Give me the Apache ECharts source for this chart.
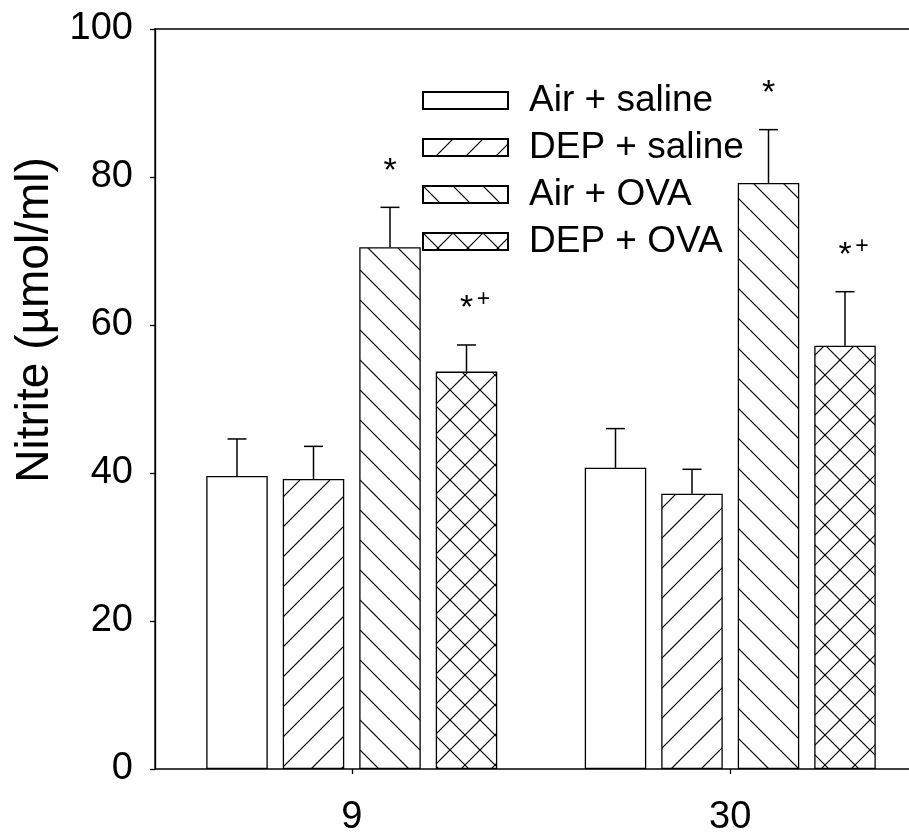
<!DOCTYPE html>
<html>
<head>
<meta charset="utf-8">
<script src="https://cdn.jsdelivr.net/npm/echarts@6/dist/echarts.min.js"></script>
<style>
	html, body { margin: 0; padding: 0; background: #fff; }
	#chart { width: 909px; height: 838px; }
</style>
</head>
<body>
<div id="chart"></div>
<script>
// days after exposure
const groups = ['9', '30'];
const treatments = ['Air + saline', 'DEP + saline', 'Air + OVA', 'DEP + OVA'];

// nitrite means and SEM (µmol/ml), one entry per group
const airSaline = [39.6, 40.7];
const airSalineErr = [5.0, 5.3];
const depSaline = [39.2, 37.2];
const depSalineErr = [4.4, 3.3];
const airOva = [70.5, 79.2];
const airOvaErr = [5.4, 7.2];
const depOva = [53.7, 57.2];
const depOvaErr = [3.6, 7.3];

// significance marks above each bar
const airSalineSig = ['', ''];
const depSalineSig = ['', ''];
const airOvaSig = ['*', '*'];
const depOvaSig = ['*+', '*+'];

const yTicks = [0, 20, 40, 60, 80, 100];

const font = 'Liberation Sans, Arial, sans-serif';
const barWidth = 61.5;
const barGapPx = 15;

const hatch = (dirs) => {
	const c = document.createElement('canvas');
	c.width = 30;
	c.height = 30;
	const g = c.getContext('2d');
	g.fillStyle = '#fff';
	g.fillRect(0, 0, 30, 30);
	g.strokeStyle = '#000';
	g.lineWidth = 1.2;
	dirs.forEach((d) => {
		for (let k = -1; k <= 1; k++) {
			g.beginPath();
			if (d === '/') {
				g.moveTo(k * 30, 30);
				g.lineTo(k * 30 + 30, 0);
			} else {
				g.moveTo(k * 30, 0);
				g.lineTo(k * 30 + 30, 30);
			}
			g.stroke();
		}
	});
	return c;
};

const fills = [
	'#fff',
	{ image: hatch(['/']), repeat: 'repeat' },
	{ image: hatch(['\\']), repeat: 'repeat' },
	{ image: hatch(['/', '\\']), repeat: 'repeat' }
];
const means = [airSaline, depSaline, airOva, depOva];
const errs = [airSalineErr, depSalineErr, airOvaErr, depOvaErr];
const sigs = [airSalineSig, depSalineSig, airOvaSig, depOvaSig];

const barSeries = treatments.map((name, i) => ({
	name,
	type: 'bar',
	xAxisIndex: 1,
	yAxisIndex: 1,
	barWidth,
	barGap: (barGapPx / barWidth * 100) + '%',
	data: means[i],
	itemStyle: { color: fills[i], borderColor: '#000', borderWidth: 1.3 },
	z: 2
}));

const errSeries = treatments.map((name, i) => ({
	type: 'custom',
	xAxisIndex: 1,
	yAxisIndex: 1,
	z: 3,
	data: means[i].map((m, g) => [g, m, errs[i][g]]),
	renderItem: (params, api) => {
		const idx = api.value(0);
		const mean = api.value(1);
		const err = api.value(2);
		const sig = sigs[i][idx];
		const base = api.coord([idx, mean]);
		const top = api.coord([idx, mean + err]);
		const x = base[0] + (i - 1.5) * (barWidth + barGapPx);
		const lineStyle = { stroke: '#000', lineWidth: 1.5 };
		const children = [
			{ type: 'line', shape: { x1: x, y1: base[1], x2: x, y2: top[1] }, style: lineStyle },
			{ type: 'line', shape: { x1: x - 9.5, y1: top[1], x2: x + 9.5, y2: top[1] }, style: lineStyle }
		];
		if (sig) {
			children.push({
				type: 'text',
				style: { text: '*', x: x, y: top[1] - 36, fill: '#000', font: '34px ' + font, align: 'center', verticalAlign: 'middle' }
			});
			if (sig.indexOf('+') >= 0) {
				children.push({
					type: 'text',
					style: { text: '+', x: x + 17, y: top[1] - 45, fill: '#000', font: '23px ' + font, align: 'center', verticalAlign: 'middle' }
				});
			}
		}
		return { type: 'group', children };
	}
}));

const chart = echarts.init(document.getElementById('chart'), null, { renderer: 'canvas' });
chart.setOption({
	animation: false,
	backgroundColor: '#fff',
	textStyle: { fontFamily: font, color: '#000' },
	grid: [
		{ left: 155, width: 770, top: 29, bottom: 69, outerBoundsMode: 'none', show: true, borderColor: '#000', borderWidth: 1.3, backgroundColor: 'transparent' },
		{ left: 162.5, width: 757, top: 29, bottom: 69, outerBoundsMode: 'none' }
	],
	legend: {
		orient: 'vertical',
		left: 422,
		top: 82,
		padding: 0,
		itemWidth: 85,
		itemHeight: 17,
		itemGap: 10,
		icon: 'rect',
		selectedMode: false,
		data: treatments,
		textStyle: { fontSize: 37, lineHeight: 37, color: '#000', fontFamily: font, padding: [0, 0, 0, 16] }
	},
	xAxis: [
		{ type: 'value', gridIndex: 0, show: false, min: 0, max: 1 },
		{
			type: 'category',
			gridIndex: 1,
			data: groups,
			axisLine: { show: false },
			axisTick: { show: true, alignWithLabel: true, length: 5, lineStyle: { color: '#000', width: 1.3 } },
			axisLabel: { fontSize: 38, color: '#000', margin: 30, fontFamily: font }
		}
	],
	yAxis: [
		{
			type: 'value',
			gridIndex: 0,
			min: yTicks[0],
			max: yTicks[yTicks.length - 1],
			interval: 20,
			name: 'Nitrite (µmol/ml)',
			nameLocation: 'middle',
			nameGap: 88,
			nameTextStyle: { fontSize: 46, color: '#000', fontFamily: font, padding: [0, 0, 0, 158] },
			axisLine: { show: true, lineStyle: { color: '#000', width: 1.3 } },
			axisTick: { show: true, length: 5, lineStyle: { color: '#000', width: 1.3 } },
			axisLabel: { fontSize: 38, color: '#000', margin: 22, fontFamily: font },
			splitLine: { show: false }
		},
		{ type: 'value', gridIndex: 1, min: 0, max: 100, show: false }
	],
	series: [...barSeries, ...errSeries]
});
</script>
</body>
</html>
